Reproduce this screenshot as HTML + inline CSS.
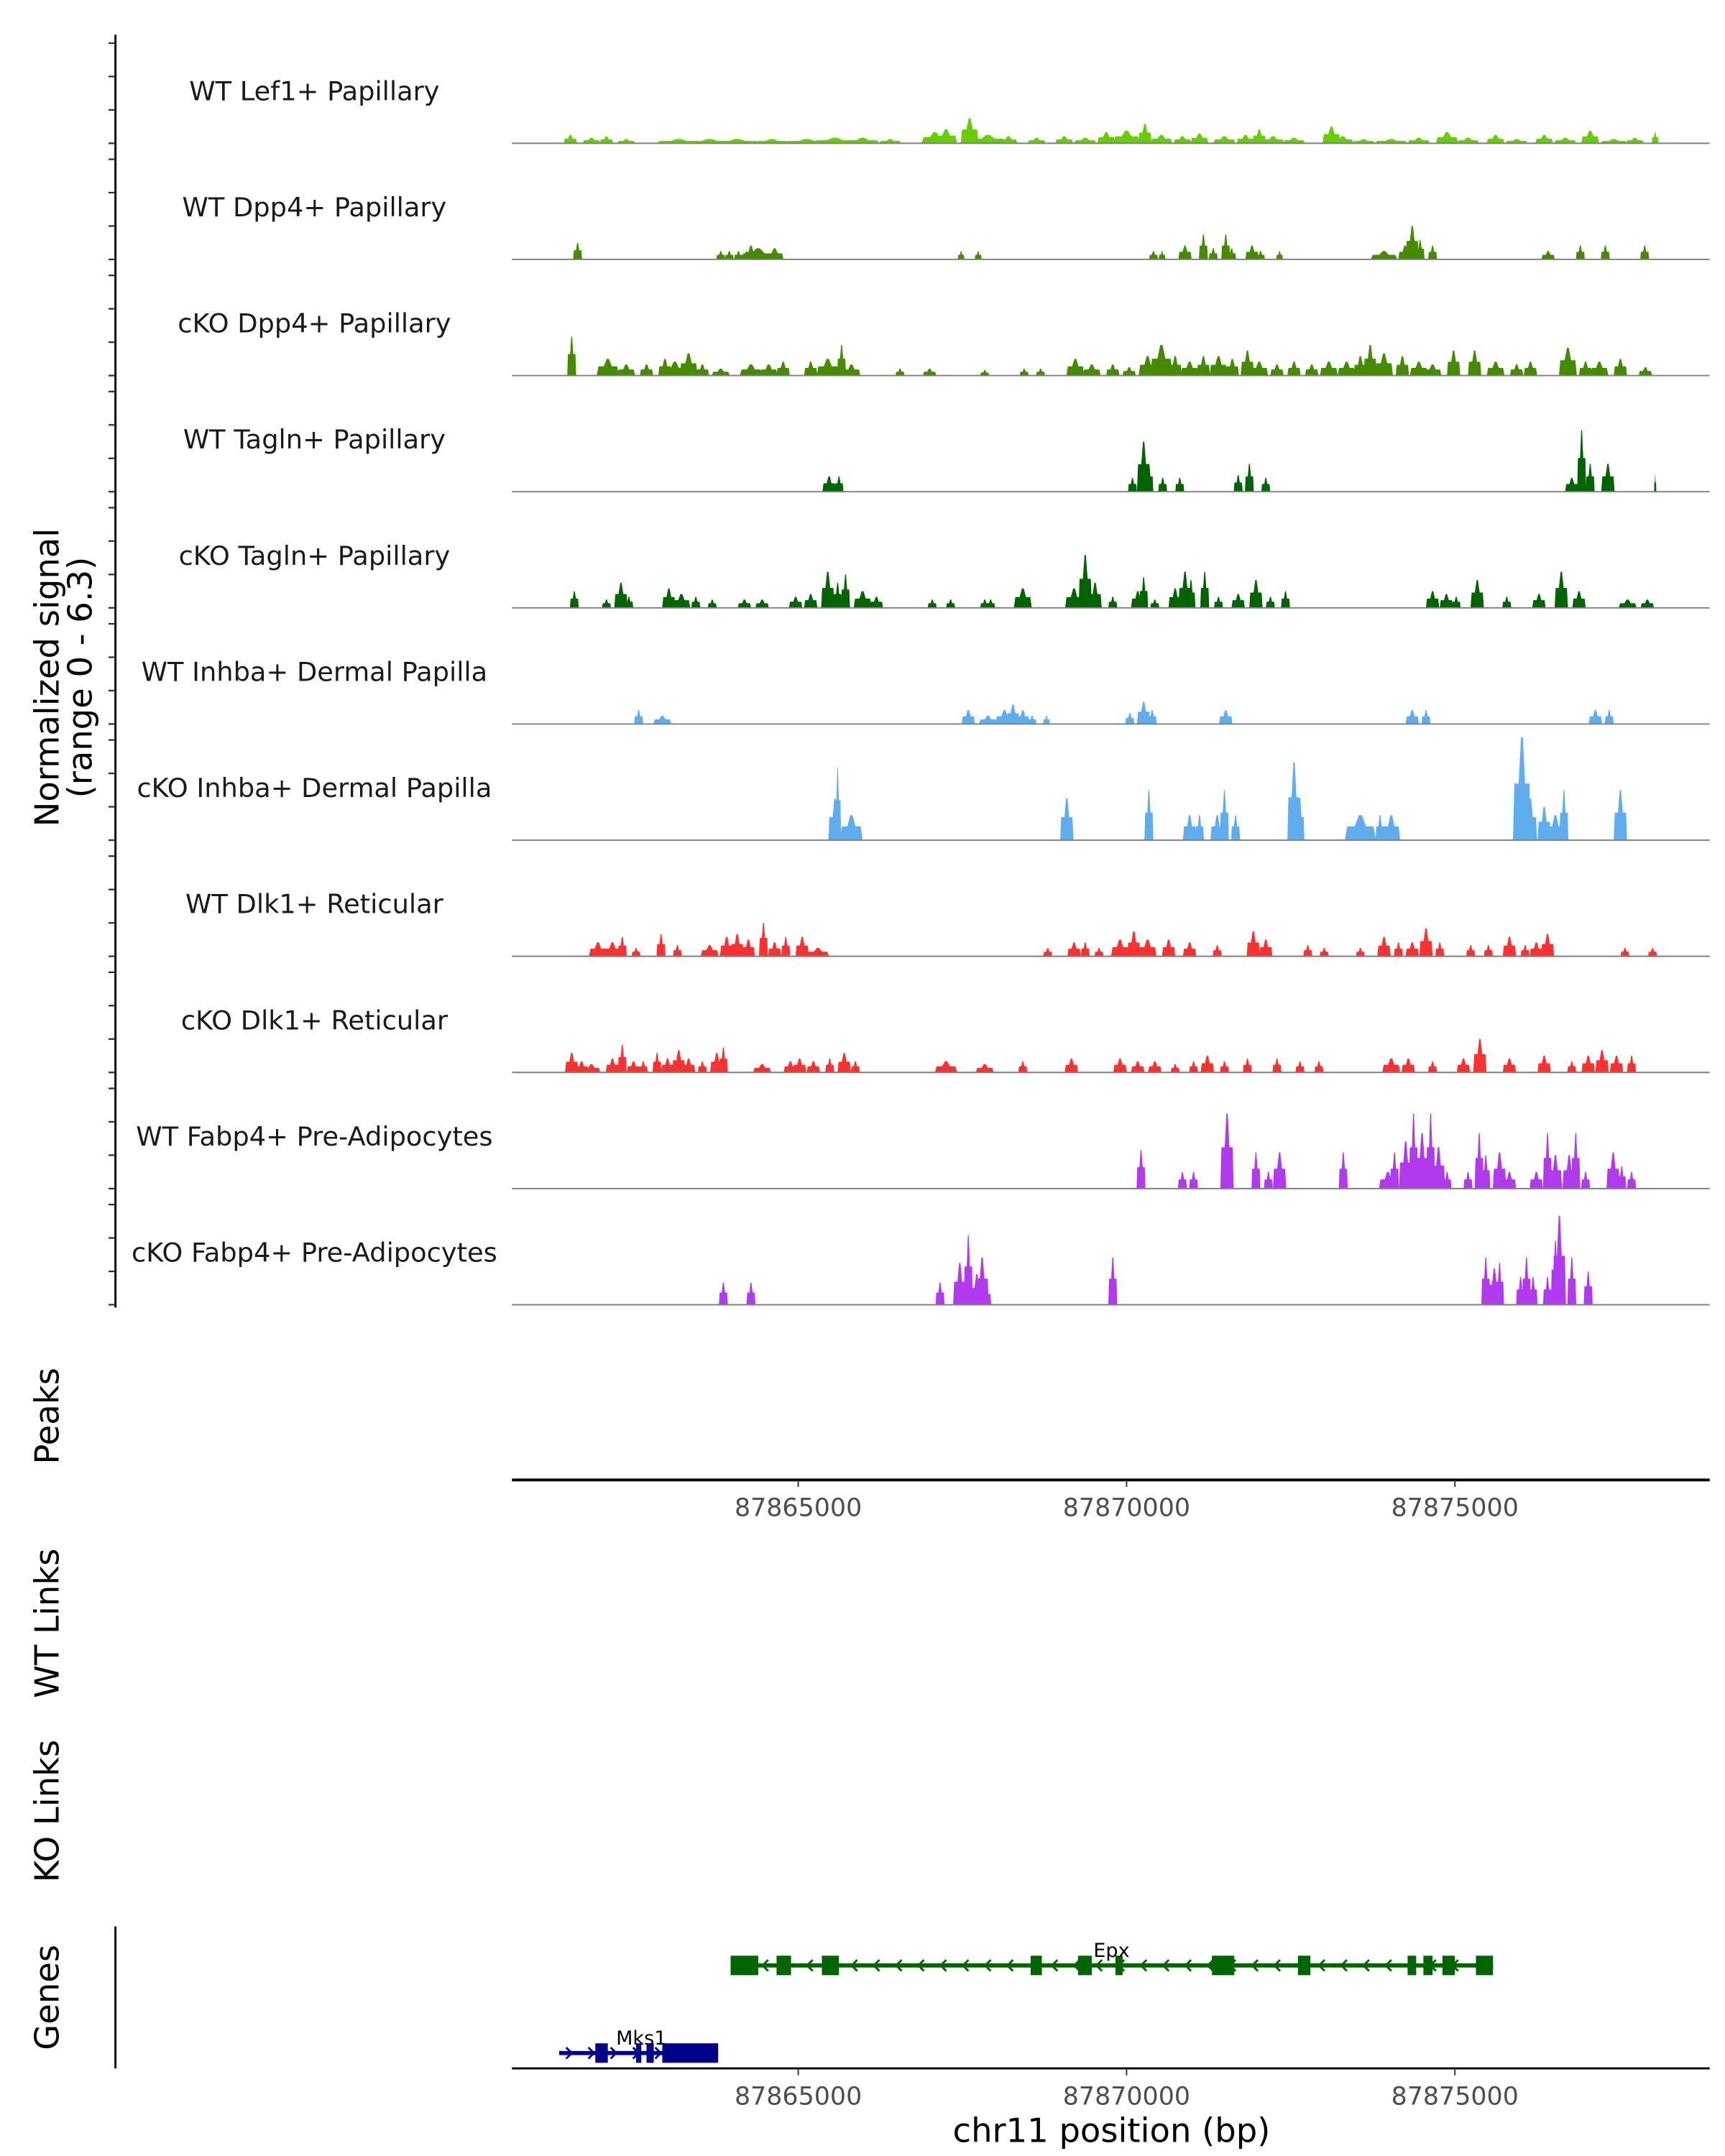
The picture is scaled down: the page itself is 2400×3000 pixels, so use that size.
<!DOCTYPE html>
<html><head><meta charset="utf-8"><style>
html,body{margin:0;padding:0;background:#fff}
svg{display:block}
text{font-family:"DejaVu Sans","Liberation Sans",sans-serif}
</style></head><body>
<svg id="chart" xmlns="http://www.w3.org/2000/svg" width="2400" height="3000" viewBox="0 0 1240 1550">
<rect width="1240" height="1550" fill="#fff"/>
<g id="tracks"></g>
<g id="left"></g>
<text transform="translate(42,487) rotate(-90)" text-anchor="middle" font-size="24" fill="#000">Normalized signal</text>
<text transform="translate(66,487) rotate(-90)" text-anchor="middle" font-size="24" fill="#000">(range 0 - 6.3)</text>
<text transform="translate(42,1018) rotate(-90)" text-anchor="middle" font-size="24">Peaks</text>
<text transform="translate(42,1167) rotate(-90)" text-anchor="middle" font-size="24">WT Links</text>
<text transform="translate(42,1302) rotate(-90)" text-anchor="middle" font-size="24">KO Links</text>
<text transform="translate(42,1436) rotate(-90)" text-anchor="middle" font-size="24">Genes</text>
<line x1="83" y1="1385" x2="83" y2="1487" stroke="#000" stroke-width="1.5"/>
<g id="axes"></g>
<g id="genes"></g>
<text x="799" y="1540" text-anchor="middle" font-size="24">chr11 position (bp)</text>
</svg>
<script>
const regionStart = 87860640, regionEnd = 87878880;
const tickValues = [87865000, 87870000, 87875000];
const tickLabels = ["87865000", "87870000", "87875000"];
const trackNames = ["WT Lef1+ Papillary","WT Dpp4+ Papillary","cKO Dpp4+ Papillary","WT Tagln+ Papillary","cKO Tagln+ Papillary","WT Inhba+ Dermal Papilla","cKO Inhba+ Dermal Papilla","WT Dlk1+ Reticular","cKO Dlk1+ Reticular","WT Fabp4+ Pre-Adipocytes","cKO Fabp4+ Pre-Adipocytes"];
const trackColors = ["#66CD00","#458B00","#458B00","#006400","#006400","#5FADEE","#5FADEE","#FF3030","#FF3030","#B23AEE","#B23AEE"];
// peaks: [position kb offset from 87800000, width bp, signal (0-80 scale)]
const lef1WT = [[61.53,127,6],[61.85,170,4],[62.08,127,5],[62.38,170,3],[63.18,424,3],[63.65,424,3],[64.07,424,3],[64.60,318,3],[65.13,424,3],[65.56,424,4],[65.98,318,4],[66.40,212,3],[67.08,254,8],[67.25,212,10],[67.61,170,18],[67.89,339,6],[68.20,170,5],[68.63,170,4],[69.05,170,5],[69.37,212,4],[69.69,170,8],[70.00,254,9],[70.28,127,14],[70.53,212,6],[70.85,170,5],[71.11,170,7],[71.49,212,5],[71.81,170,6],[72.02,127,10],[72.23,212,5],[72.55,212,4],[73.12,170,12],[73.29,212,5],[73.61,212,3],[74.03,318,3],[74.45,212,4],[74.88,212,8],[75.20,212,4],[75.62,170,6],[75.94,212,3],[76.36,170,6],[76.68,212,4],[77.06,170,9],[77.42,254,3],[77.74,170,4],[78.05,64,8]];
const dpp4WT = [[61.64,85,12],[63.82,85,6],[63.95,85,6],[64.09,85,6],[64.39,339,8],[64.28,127,10],[64.64,170,8],[67.48,64,6],[67.74,64,6],[70.41,85,6],[70.54,64,6],[70.89,127,10],[71.17,85,18],[71.32,85,8],[71.51,85,18],[71.60,85,8],[71.91,127,10],[72.04,85,6],[72.33,64,6],[73.92,254,6],[74.24,127,10],[74.35,127,24],[74.47,85,14],[74.66,85,10],[76.42,127,6],[76.91,85,10],[77.29,85,10],[77.89,85,10]];
const dpp4KO = [[61.55,85,28],[62.10,212,12],[62.38,170,8],[62.69,127,8],[62.97,127,12],[63.12,212,10],[63.33,170,16],[63.54,127,8],[63.82,170,5],[64.28,212,8],[64.55,170,8],[64.77,127,10],[65.19,127,10],[65.45,212,12],[65.66,85,22],[65.81,170,8],[66.55,85,5],[67.00,127,5],[67.84,85,4],[68.44,85,5],[68.69,85,5],[69.22,170,12],[69.47,170,8],[69.79,127,8],[70.04,127,6],[70.32,170,14],[70.53,212,22],[70.74,127,14],[70.96,170,10],[71.17,127,14],[71.40,170,14],[71.61,127,12],[71.84,127,18],[72.02,170,10],[72.29,127,8],[72.55,127,10],[72.82,127,8],[73.08,170,10],[73.35,170,10],[73.56,127,14],[73.71,127,22],[73.92,170,16],[74.20,127,14],[74.45,170,10],[74.66,170,8],[74.98,127,18],[75.30,127,18],[75.62,170,10],[75.94,127,8],[76.15,127,10],[76.72,170,20],[76.99,127,10],[77.20,170,10],[77.52,127,12],[77.90,127,6]];
const taglnWT = [[65.47,127,11],[65.62,85,11],[70.09,85,10],[70.26,127,36],[70.34,85,20],[70.55,85,10],[70.81,85,10],[71.70,85,12],[71.87,85,20],[72.12,85,10],[76.78,127,10],[76.93,85,44],[77.06,85,20],[77.33,127,20],[78.05,21,12]];
const taglnKO = [[61.59,85,12],[62.08,85,6],[62.30,127,18],[62.42,85,8],[63.03,127,14],[63.22,170,10],[63.44,85,8],[63.69,85,6],[64.18,127,6],[64.45,127,6],[64.96,127,8],[65.19,127,10],[65.45,127,26],[65.60,85,18],[65.72,85,24],[65.98,170,12],[66.19,127,8],[67.04,85,6],[67.32,85,6],[67.84,85,6],[67.93,85,6],[68.42,170,14],[69.20,170,14],[69.37,127,38],[69.52,127,18],[69.79,85,8],[70.17,127,12],[70.26,85,22],[70.43,85,6],[70.74,127,14],[70.89,127,26],[70.98,85,20],[71.19,85,26],[71.40,85,8],[71.70,127,10],[71.97,127,20],[72.19,85,8],[72.42,85,12],[74.66,127,12],[74.87,127,10],[75.02,85,8],[75.34,127,20],[75.79,85,8],[76.28,127,10],[76.62,127,26],[76.89,127,12],[77.63,170,6],[77.93,127,6]];
const inhbaWT = [[62.57,85,10],[62.93,170,6],[67.59,127,10],[67.89,170,6],[68.14,170,10],[68.27,127,14],[68.42,127,10],[68.56,85,6],[68.78,64,6],[70.05,85,8],[70.26,127,16],[70.39,85,10],[71.51,127,10],[74.35,127,10],[74.56,85,10],[77.14,127,10],[77.35,85,10]];
const inhbaKO = [[65.56,127,30],[65.60,64,52],[65.81,212,18],[69.09,127,30],[70.34,85,36],[70.96,127,18],[71.11,85,18],[71.38,127,18],[71.49,85,36],[71.66,85,18],[72.55,127,56],[72.64,85,30],[73.56,297,18],[73.86,85,18],[74.03,170,18],[76.02,170,74],[76.15,127,30],[76.36,127,24],[76.53,170,18],[76.66,85,36],[77.52,127,36]];
const dlk1WT = [[61.95,170,10],[62.17,170,10],[62.32,85,14],[62.53,85,6],[62.91,85,16],[63.16,85,8],[63.65,170,8],[63.91,127,14],[64.07,127,16],[64.24,127,12],[64.47,85,24],[64.64,127,10],[64.81,85,14],[65.06,127,14],[65.30,212,6],[68.80,85,6],[69.20,127,10],[69.37,85,10],[69.58,85,6],[69.90,170,12],[70.11,127,18],[70.32,170,12],[70.64,127,12],[70.96,127,10],[71.38,85,8],[71.93,127,18],[72.12,127,12],[72.76,85,8],[73.01,85,6],[73.56,85,6],[73.92,127,14],[74.14,85,10],[74.35,127,10],[74.56,127,20],[74.77,85,10],[75.24,85,8],[75.51,85,8],[75.83,127,14],[76.07,85,8],[76.24,127,10],[76.41,127,16],[77.59,85,6],[78.01,85,6]];
const dlk1KO = [[61.55,127,14],[61.70,127,8],[61.85,170,6],[62.17,127,10],[62.32,85,20],[62.49,127,8],[62.64,85,8],[62.85,85,14],[63.01,127,10],[63.18,127,16],[63.33,127,10],[63.54,85,8],[63.76,127,14],[63.86,85,18],[64.45,170,6],[64.88,127,8],[65.02,127,10],[65.23,127,8],[65.48,85,10],[65.70,127,14],[65.87,85,8],[67.25,212,8],[67.84,170,6],[68.42,85,8],[69.16,127,10],[69.90,127,10],[70.17,127,8],[70.43,127,8],[70.74,85,6],[71.02,85,8],[71.23,127,12],[71.49,85,8],[71.84,85,10],[72.29,85,10],[72.64,85,8],[72.93,85,8],[74.03,170,10],[74.29,127,10],[74.66,85,8],[75.13,127,10],[75.38,127,24],[75.83,127,10],[76.36,127,12],[76.78,85,8],[77.03,127,12],[77.24,127,16],[77.46,127,12],[77.69,85,12]];
const fabp4WT = [[70.22,85,28],[70.85,85,12],[71.02,85,12],[71.53,127,54],[71.97,85,26],[72.16,85,12],[72.33,127,26],[73.30,85,26],[73.98,170,12],[74.08,85,26],[74.25,127,34],[74.37,85,54],[74.50,127,40],[74.63,85,54],[74.75,127,30],[74.88,85,12],[75.20,85,12],[75.37,85,40],[75.47,85,24],[75.68,127,26],[75.83,127,12],[76.24,127,12],[76.41,85,40],[76.53,127,24],[76.74,127,24],[76.84,85,40],[76.99,85,12],[77.41,127,26],[77.54,85,16],[77.69,85,12]];
const fabp4KO = [[63.86,85,16],[64.28,85,16],[67.16,85,16],[67.46,127,30],[67.59,85,50],[67.72,127,22],[67.80,127,34],[67.87,85,14],[69.79,85,34],[75.47,85,34],[75.60,127,26],[75.68,85,30],[76.00,85,20],[76.09,85,34],[76.19,85,20],[76.41,85,20],[76.53,85,46],[76.59,127,64],[76.78,85,34],[77.03,85,24]];
const trackData = [lef1WT,dpp4WT,dpp4KO,taglnWT,taglnKO,inhbaWT,inhbaKO,dlk1WT,dlk1KO,fabp4WT,fabp4KO];
const epxSpan = [63.97, 75.58];
const epxExons = [[63.97,64.39],[64.67,64.89],[65.36,65.62],[68.54,68.71],[69.26,69.47],[69.83,69.94],[71.30,71.64],[72.61,72.80],[74.28,74.41],[74.52,74.66],[74.81,75.00],[75.32,75.58]];
const mks1Span = [61.36, 63.78];
const mks1Exons = [[61.91,62.10],[62.53,62.61],[62.69,62.80],[62.93,63.78]];

const NS = "http://www.w3.org/2000/svg";
const X0 = 368, X1 = 1229;
function xs(bp){ return X0 + (bp - regionStart) / (regionEnd - regionStart) * (X1 - X0); }
function xk(kb){ return xs(87800000 + kb * 1000); }
const sigMax = 80, trackH = 80;
function ys(v, base){ return base - v / sigMax * trackH; }
function mk(tag, attrs, parent){ const e = document.createElementNS(NS, tag); for (const k in attrs) e.setAttribute(k, attrs[k]); parent.appendChild(e); return e; }

const tracksG = document.getElementById('tracks');
const leftG = document.getElementById('left');
const baseFirst = 103, step = 83.5;
mk('line', {x1:83,y1:25,x2:83,y2:940,stroke:'#000','stroke-width':1.5}, leftG);
trackNames.forEach((name, i) => {
  const base = baseFirst + i * step;
  const g = mk('g', {}, tracksG);
  
  
  const t = mk('text', {x:226, y:base-31, 'text-anchor':'middle','font-size':19, fill:'#1a1a1a'}, g);
  t.textContent = name;
  
  
  trackData[i].forEach(p => {
    const cx = xk(p[0]);
    const w = Math.max(1.6 * p[1] * (X1 - X0) / (regionEnd - regionStart), 1.5);
    const top = ys(p[2], base), mid = ys(p[2] * 0.55, base);
    const a = cx - w/2, b = cx + w/2;
    const poly = mk('polygon', {points:`${a},${base} ${a+w*0.08},${mid} ${cx-w*0.18},${mid} ${cx-w*0.05},${top} ${cx+w*0.05},${top} ${cx+w*0.18},${mid} ${b-w*0.08},${mid} ${b},${base}`, fill:trackColors[i]}, g);
    
    
  });
  const bl = mk('line', {x1:X0,y1:base,x2:X1,y2:base,stroke:'#7f7f7f','stroke-width':1}, g);
  
  
  for (let k = 0; k < 4; k++) {
    const ty = base - k * 24;
    const tk = mk('line', {x1:78,y1:ty,x2:83,y2:ty,stroke:'#333','stroke-width':1.2}, leftG);
    
    
  }
});

const axesG = document.getElementById('axes');
[1064, 1487].forEach((ay, j) => {
  const l = mk('line', {x1:X0,y1:ay,x2:X1,y2:ay,stroke:'#000','stroke-width':j===0?2:1.5}, axesG);
  
  
  tickValues.forEach((v, k) => {
    const x = xs(v);
    const tl = mk('line', {x1:x,y1:ay,x2:x,y2:ay+5,stroke:'#333','stroke-width':1}, axesG);
    
    
    const tt = mk('text', {x:x, y:ay+26, 'text-anchor':'middle','font-size':18, fill:'#4d4d4d'}, axesG);
    tt.textContent = tickLabels[k];
    
    
  });
});

const genesG = document.getElementById('genes');
function drawGene(span, exons, y, color, dir, label, lx, ly, nm){
  const g = mk('g', {}, genesG);
  
  
  mk('line', {x1:xk(span[0]),y1:y,x2:xk(span[1]),y2:y,stroke:color,'stroke-width':3}, g);
  for (let x = xk(span[0]) + 8; x < xk(span[1]) - 4; x += 16) {
    const d = dir < 0 ? `M${x+3},${y-4} L${x-1},${y} L${x+3},${y+4}` : `M${x-3},${y-4} L${x+1},${y} L${x-3},${y+4}`;
    mk('path', {d:d, stroke:color, 'stroke-width':1.5, fill:'none'}, g);
  }
  exons.forEach(e => {
    const r = mk('rect', {x:xk(e[0]), y:y-7, width:Math.max(xk(e[1])-xk(e[0]),2), height:14, fill:color}, g);
    
    
  });
  const t = mk('text', {x:lx, y:ly, 'text-anchor':'middle','font-size':14, fill:'#000'}, g);
  t.textContent = label;
  
  
}
drawGene(epxSpan, epxExons, 1413, '#006400', -1, 'Epx', 799, 1407, 'gene-epx');
drawGene(mks1Span, mks1Exons, 1476, '#00008B', 1, 'Mks1', 461, 1470, 'gene-mks1');
</script>
</body></html>
